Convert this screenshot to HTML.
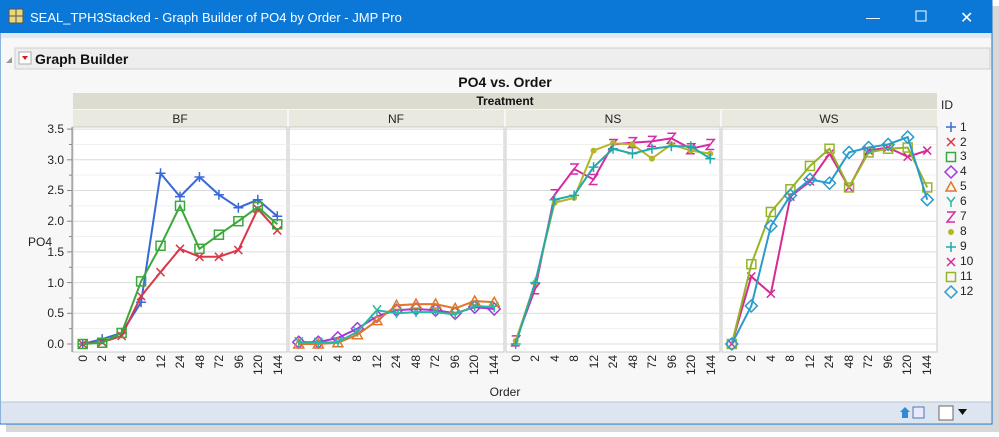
<!DOCTYPE html><html><head><meta charset="utf-8"><style>
body{margin:0;width:999px;height:432px;overflow:hidden;background:#fff;font-family:"Liberation Sans",sans-serif}
</style></head><body>
<svg id="s" width="999" height="432" xmlns="http://www.w3.org/2000/svg" font-family="Liberation Sans, sans-serif">
<rect x="0" y="0" width="999" height="432" fill="#ffffff"/>
<rect x="990" y="6" width="9" height="426" fill="#d8d8d8"/>
<rect x="6" y="423" width="993" height="9" fill="#d8d8d8"/>
<rect x="0" y="0" width="992" height="424" fill="#f7f7f7" stroke="#1c6fc9" stroke-width="1"/>
<rect x="0" y="0" width="992" height="33" fill="#0b78d7"/>
<rect x="9" y="9" width="14" height="14" fill="#e8d87a" stroke="#555" stroke-width="1"/>
<path d="M16 9V23M9 16H23" stroke="#555"/>
<text x="30" y="22" font-size="13" fill="#fff">SEAL_TPH3Stacked - Graph Builder of PO4 by Order - JMP Pro</text>
<text x="866" y="22" font-size="14" fill="#fff">—</text>
<rect x="916" y="11" width="10" height="10" fill="none" stroke="#fff"/>
<text x="960" y="23" font-size="16" fill="#fff">✕</text>
<rect x="1" y="33" width="990" height="5" fill="#dfe8f3"/>
<rect x="15" y="48" width="975" height="21" fill="#eeeeee" stroke="#cfcfcf"/>
<path d="M6 63L12 57V63Z" fill="#999"/>
<rect x="19" y="52" width="12" height="12" fill="#fff" stroke="#aaa"/>
<path d="M22 56H28L25 60Z" fill="#d01c1c"/>
<text x="35" y="64" font-size="14" font-weight="bold" fill="#111">Graph Builder</text>
<text x="505" y="87" font-size="14" font-weight="bold" text-anchor="middle" fill="#111">PO4 vs. Order</text>
<rect x="73" y="93" width="864" height="16" fill="#dcdcd0"/>
<text x="505" y="105" font-size="12" font-weight="bold" text-anchor="middle" fill="#111">Treatment</text>
<g fill="#eae9e0"><rect x="73" y="110" width="214" height="17"/><rect x="289" y="110" width="215" height="17"/><rect x="506" y="110" width="214" height="17"/><rect x="722" y="110" width="215" height="17"/></g>
<g font-size="12" text-anchor="middle" fill="#222"><text x="180" y="123">BF</text><text x="396" y="123">NF</text><text x="613" y="123">NS</text><text x="829" y="123">WS</text></g>
<g id="plots"></g>
<g font-size="12" text-anchor="end" fill="#222"><text x="64" y="133">3.5</text><text x="64" y="164">3.0</text><text x="64" y="194">2.5</text><text x="64" y="225">2.0</text><text x="64" y="256">1.5</text><text x="64" y="287">1.0</text><text x="64" y="317">0.5</text><text x="64" y="348">0.0</text></g>
<text x="28" y="246" font-size="12" fill="#222">PO4</text>
<g id="xl" font-size="12" text-anchor="end" fill="#222">
<g transform="translate(0,0)"><text transform="translate(87,355) rotate(-90)">0</text><text transform="translate(106,355) rotate(-90)">2</text><text transform="translate(126,355) rotate(-90)">4</text><text transform="translate(145,355) rotate(-90)">8</text><text transform="translate(165,355) rotate(-90)">12</text><text transform="translate(184,355) rotate(-90)">24</text><text transform="translate(204,355) rotate(-90)">48</text><text transform="translate(223,355) rotate(-90)">72</text><text transform="translate(243,355) rotate(-90)">96</text><text transform="translate(262,355) rotate(-90)">120</text><text transform="translate(282,355) rotate(-90)">144</text></g>
<g transform="translate(216,0)"><text transform="translate(87,355) rotate(-90)">0</text><text transform="translate(106,355) rotate(-90)">2</text><text transform="translate(126,355) rotate(-90)">4</text><text transform="translate(145,355) rotate(-90)">8</text><text transform="translate(165,355) rotate(-90)">12</text><text transform="translate(184,355) rotate(-90)">24</text><text transform="translate(204,355) rotate(-90)">48</text><text transform="translate(223,355) rotate(-90)">72</text><text transform="translate(243,355) rotate(-90)">96</text><text transform="translate(262,355) rotate(-90)">120</text><text transform="translate(282,355) rotate(-90)">144</text></g>
<g transform="translate(433,0)"><text transform="translate(87,355) rotate(-90)">0</text><text transform="translate(106,355) rotate(-90)">2</text><text transform="translate(126,355) rotate(-90)">4</text><text transform="translate(145,355) rotate(-90)">8</text><text transform="translate(165,355) rotate(-90)">12</text><text transform="translate(184,355) rotate(-90)">24</text><text transform="translate(204,355) rotate(-90)">48</text><text transform="translate(223,355) rotate(-90)">72</text><text transform="translate(243,355) rotate(-90)">96</text><text transform="translate(262,355) rotate(-90)">120</text><text transform="translate(282,355) rotate(-90)">144</text></g>
<g transform="translate(649,0)"><text transform="translate(87,355) rotate(-90)">0</text><text transform="translate(106,355) rotate(-90)">2</text><text transform="translate(126,355) rotate(-90)">4</text><text transform="translate(145,355) rotate(-90)">8</text><text transform="translate(165,355) rotate(-90)">12</text><text transform="translate(184,355) rotate(-90)">24</text><text transform="translate(204,355) rotate(-90)">48</text><text transform="translate(223,355) rotate(-90)">72</text><text transform="translate(243,355) rotate(-90)">96</text><text transform="translate(262,355) rotate(-90)">120</text><text transform="translate(282,355) rotate(-90)">144</text></g>
</g>
<text x="505" y="396" font-size="12" text-anchor="middle" fill="#222">Order</text>
<text x="941" y="109" font-size="12" fill="#222">ID</text>
<g id="leg" font-size="12" fill="#222"><text x="960" y="131">1</text><text x="960" y="146">2</text><text x="960" y="160">3</text><text x="960" y="175">4</text><text x="960" y="190">5</text><text x="960" y="205">6</text><text x="960" y="220">7</text><text x="960" y="235">8</text><text x="960" y="250">9</text><text x="960" y="265">10</text><text x="960" y="280">11</text><text x="960" y="295">12</text></g>
<rect x="1" y="402" width="990" height="21" fill="#dde6f0"/>
<line x1="1" y1="402" x2="991" y2="402" stroke="#b8c6d8"/>
<path d="M900 412L905 407L910 412H908V418H902V412Z" fill="#2e8ad6"/>
<rect x="913" y="407" width="11" height="11" fill="#eaeaff" stroke="#5577aa"/>
<rect x="939" y="406" width="14" height="14" fill="#fff" stroke="#666"/>
<path d="M958 409H967L962.5 415Z" fill="#111"/>
</svg>
<script>
var NS="http://www.w3.org/2000/svg",g=document.getElementById('plots');
function el(t,a,p){var e=document.createElementNS(NS,t);for(var k in a)e.setAttribute(k,a[k]);(p||g).appendChild(e);return e}
var px=[73,289,506,722],pw=[214,215,214,215];
function Y(v){return 344-v*61.4}
px.forEach(function(x0,i){var w=pw[i];
el('rect',{x:x0,y:127,width:w,height:225,fill:'#fff',stroke:'#c8c8c8'});
for(var v=0;v<=3.5;v+=0.25){el('line',{x1:x0,x2:x0+w,y1:Y(v),y2:Y(v),stroke:(v*4)%2?'#f0f0f0':'#dcdcdc'})}
});
el('line',{x1:72,x2:72,y1:127,y2:352,stroke:'#888'});
for(var v=0;v<=3.5;v+=0.25)el('line',{x1:(v*4)%2?69:67,x2:72,y1:Y(v),y2:Y(v),stroke:'#888'});
var C=['#3a68d8','#d9374a','#3aa83a','#a13ad6','#e0762a','#2cb7a0','#d62aa6','#b5b52a','#23a9a9','#d62a94','#96b428','#2a9ccc'];
var M=['+','x','s','d','t','y','z','o','+','x','s','d'];
var D=[
[0,[0,0.08,0.18,0.68,2.78,2.4,2.72,2.43,2.22,2.35,2.08]],
[0,[0,0.03,0.13,0.78,1.17,1.55,1.42,1.42,1.53,2.2,1.85]],
[0,[0,0.02,0.18,1.02,1.6,2.25,1.55,1.78,2.0,2.23,1.95]],
[1,[0.03,0.03,0.1,0.25,0.45,0.55,0.57,0.55,0.5,0.6,0.57]],
[1,[0,0,0.02,0.15,0.38,0.63,0.65,0.65,0.58,0.7,0.68]],
[1,[0.03,0.02,0.03,0.2,0.55,0.5,0.52,0.52,0.48,0.62,0.6]],
[2,[0.05,0.9,2.43,2.85,2.68,3.25,3.28,3.3,3.35,3.18,3.25]],
[2,[0.05,1.0,2.3,2.38,3.15,3.27,3.25,3.02,3.25,3.15,3.1]],
[2,[0,1.0,2.35,2.42,2.88,3.18,3.1,3.18,3.22,3.22,3.02]],
[3,[0,1.1,0.82,2.4,2.65,3.1,2.55,3.15,3.2,3.05,3.15]],
[3,[0,1.3,2.15,2.52,2.9,3.18,2.55,3.12,3.18,3.2,2.55]],
[3,[0,0.62,1.92,2.42,2.68,2.62,3.12,3.2,3.25,3.37,2.35]]];
function mk(m,x,y,c,p){var a={stroke:c,'stroke-width':1.5,fill:'none'};
if(m=='+')el('path',Object.assign(a,{d:'M'+(x-5)+' '+y+'h10M'+x+' '+(y-5)+'v10'}),p);
else if(m=='x')el('path',Object.assign(a,{d:'M'+(x-4)+' '+(y-4)+'l8 8M'+(x+4)+' '+(y-4)+'l-8 8'}),p);
else if(m=='s')el('rect',Object.assign(a,{x:x-4.5,y:y-4.5,width:9,height:9}),p);
else if(m=='d')el('path',Object.assign(a,{d:'M'+x+' '+(y-6)+'l6 6l-6 6l-6 -6z'}),p);
else if(m=='t')el('path',Object.assign(a,{d:'M'+x+' '+(y-5)+'l5 9h-10z'}),p);
else if(m=='y')el('path',Object.assign(a,{d:'M'+(x-4)+' '+(y-5)+'l4 5l4 -5M'+x+' '+y+'v5'}),p);
else if(m=='z')el('path',Object.assign(a,{d:'M'+(x-4)+' '+(y-5)+'h8l-8 10h8'}),p);
else el('circle',{cx:x,cy:y,r:3,fill:c},p);}
D.forEach(function(d,k){var x0=px[d[0]],w=pw[d[0]],pts=d[1].map(function(v,i){return[x0+(i+0.5)*w/11,Y(v)]});
el('polyline',{points:pts.join(' '),fill:'none',stroke:C[k],'stroke-width':2});
pts.forEach(function(p){mk(M[k],p[0],p[1],C[k])});
mk(M[k],951,127+k*15,C[k]);});
</script>
</body></html>
